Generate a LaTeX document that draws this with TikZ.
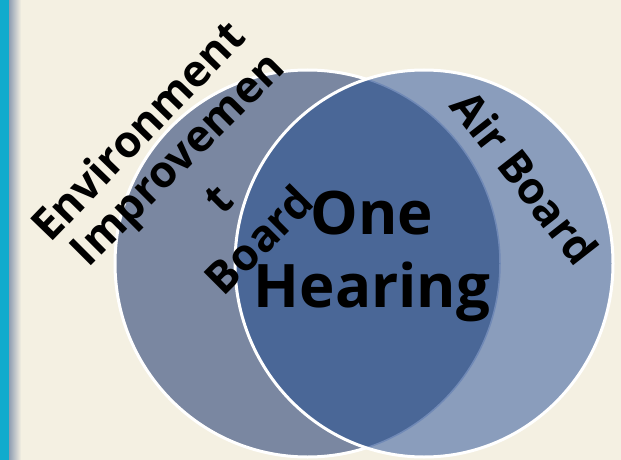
\documentclass[tikz,border=0pt]{standalone}
\usepackage{fontspec}
\setmainfont{Open Sans}
\usetikzlibrary{shadings}
\definecolor{bg}{HTML}{F4F0E2}
\definecolor{barcyan}{HTML}{11ABCD}
\definecolor{bargray}{HTML}{8E9DB2}
\definecolor{leftfill}{HTML}{7A87A1}
\definecolor{rightfill}{HTML}{8A9DBC}
\definecolor{overfill}{HTML}{4A6797}
\definecolor{faintedge}{HTML}{7089B6}
\tikzset{
  lbl/.style={inner sep=0pt, font=\bfseries\fontsize{44}{58}\selectfont, text=black, align=center},
  big/.style={inner sep=0pt, font=\bfseries\fontsize{60}{73}\selectfont, text=black, align=center},
  rim/.style={draw=white, line width=3pt}
}
\begin{document}
\begin{tikzpicture}[x=1pt,y=-1pt]
\useasboundingbox (0,0) rectangle (621,460);
\fill[bg] (0,0) rectangle (621,460);
% left bar
\shade[left color=bargray, right color=bg] (9,0) rectangle (21,460);
\fill[barcyan] (0,0) rectangle (9,460);
% circles
\coordinate (lc) at (307.5,263.5);
\coordinate (rc) at (424,263.5);
\fill[leftfill] (lc) ellipse [x radius=192.5, y radius=193.5];
\draw[rim] (lc) ellipse [x radius=192.5, y radius=193.5];
\fill[rightfill] (rc) ellipse [x radius=189, y radius=193.5];
\begin{scope}
  \clip (rc) ellipse [x radius=189, y radius=193.5];
  \fill[overfill] (lc) ellipse [x radius=192.5, y radius=193.5];
  \draw[faintedge, line width=1.5pt] (lc) ellipse [x radius=192.5, y radius=193.5];
\end{scope}
\draw[rim] (rc) ellipse [x radius=189, y radius=193.5];
% texts
\node[lbl, rotate=46] (env) at (137,130) {Environment};
\node[lbl, rotate=45] (imp) at (218,199) {Improvemen\\t\\Board};
\node[lbl, rotate=-52] (air) at (525,177) {Air Board};
\node[big] (one) at (372,256) {One\\Hearing};
\end{tikzpicture}
\end{document}
